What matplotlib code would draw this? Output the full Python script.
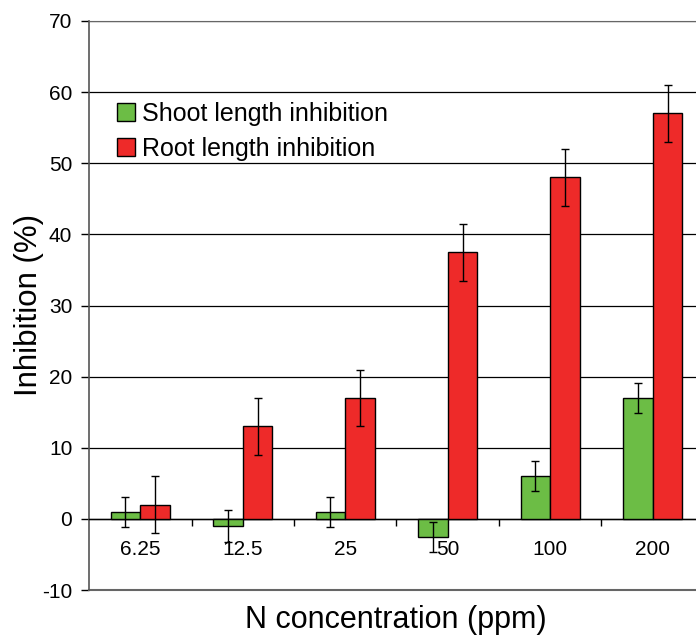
import matplotlib
matplotlib.use("Agg")
import matplotlib.pyplot as plt
import numpy as np

# data
concentrations = ["6.25", "12.5", "25", "50", "100", "200"]
shoot_inhibition = [1.0, -1.0, 1.0, -2.5, 6.0, 17.0]
shoot_error = [2.1, 2.2, 2.1, 2.1, 2.1, 2.15]
root_inhibition = [2.0, 13.0, 17.0, 37.5, 48.0, 57.0]
root_error = [4.0, 4.0, 4.0, 4.0, 4.0, 4.0]

green = "#6cbd45"
red = "#ee2a29"

plt.rcParams["font.family"] = ["Liberation Sans", "DejaVu Sans"]
plt.rcParams["axes.unicode_minus"] = False

fig = plt.figure(figsize=(6.96, 6.4), dpi=100)
# plot area runs past the right edge of the image like the cropped original
ax = fig.add_axes([89 / 696, 1 - 590 / 640, 615 / 696, 569 / 640])

x = np.arange(len(concentrations))
bar_w = 0.29

ax.bar(x - bar_w / 2, shoot_inhibition, bar_w, color=green, edgecolor="black",
       linewidth=1, label="Shoot length inhibition", zorder=3)
ax.bar(x + bar_w / 2, root_inhibition, bar_w, color=red, edgecolor="black",
       linewidth=1, label="Root length inhibition", zorder=3)
ax.errorbar(x - bar_w / 2, shoot_inhibition, yerr=shoot_error, fmt="none",
            ecolor="black", elinewidth=1, capsize=2.7, capthick=1, zorder=4)
ax.errorbar(x + bar_w / 2, root_inhibition, yerr=root_error, fmt="none",
            ecolor="black", elinewidth=1, capsize=2.7, capthick=1, zorder=4)

ax.set_xlim(-0.5, len(concentrations) - 0.5)
ax.set_ylim(-10, 70)
ax.set_yticks(np.arange(-10, 71, 10))
ax.yaxis.grid(True, color="black", linewidth=0.9, zorder=1)
ax.set_axisbelow(True)

# x axis sits on y = 0
ax.spines["bottom"].set_position(("data", 0))
ax.spines["bottom"].set_color("black")
ax.spines["bottom"].set_linewidth(1)
ax.spines["right"].set_visible(False)
ax.spines["top"].set_color("#666666")
ax.spines["left"].set_color("#555555")
ax.spines["left"].set_linewidth(1.2)
ax.axhline(-10, color="#666666", linewidth=1.5, zorder=2, clip_on=False)

ax.set_xticks(x)
ax.set_xticklabels(concentrations)
ax.set_xticks(x[:-1] + 0.5, minor=True)
ax.tick_params(axis="x", which="major", length=0, pad=15.5, labelsize=15)
ax.tick_params(axis="x", which="minor", length=5, width=1, direction="out")
ax.tick_params(axis="y", length=6, width=1, labelsize=15, pad=6)

fig.text(29 / 696, 1 - 305 / 640, "Inhibition (%)", fontsize=22.5,
         rotation=90, ha="center", va="center")
fig.text(396 / 696, 1 - 620 / 640, "N concentration (ppm)", fontsize=22,
         ha="center", va="center")

ax.legend(loc="upper left", bbox_to_anchor=(0.03, 0.876), frameon=False,
          fontsize=18, handlelength=0.72, handleheight=0.72,
          handletextpad=0.25, labelspacing=0.45, borderaxespad=0)

fig.savefig("out.png", dpi=100)
